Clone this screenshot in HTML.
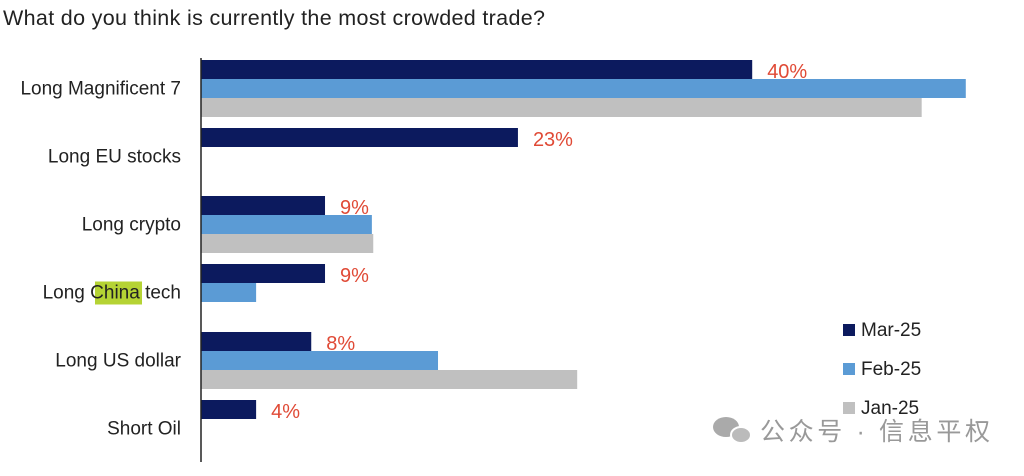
<!DOCTYPE html>
<html><head><meta charset="utf-8">
<style>
body{margin:0;background:#fff;width:1024px;height:471px;overflow:hidden;font-family:"Liberation Sans","Noto Sans CJK SC",sans-serif;}
</style></head>
<body>
<svg width="1024" height="471">
<text x="3" y="25" font-size="21.5" fill="#222" textLength="542">What do you think is currently the most crowded trade?</text>
<g id="bars"></g>
<line x1="201" y1="58" x2="201" y2="462" stroke="#222" stroke-width="1.5"/>
<g>
<rect x="843" y="324" width="12" height="12" fill="#0c1a5e"/>
<text x="861" y="336" font-size="19" fill="#222">Mar-25</text>
<rect x="843" y="363" width="12" height="12" fill="#5b9bd5"/>
<text x="861" y="375" font-size="19" fill="#222">Feb-25</text>
<rect x="843" y="402" width="12" height="12" fill="#c0c0c0"/>
<text x="861" y="414" font-size="19" fill="#222">Jan-25</text>
</g>
<g fill="#aaa">
<ellipse cx="726" cy="427" rx="13" ry="10"/>
<ellipse cx="741" cy="435" rx="10" ry="8" fill="#bbb" stroke="#fff" stroke-width="2"/>
</g>
<text x="760" y="440" font-size="25" fill="#999" textLength="230">公众号 · 信息平权</text>
</svg>
<script>
const categories=["Long Magnificent 7","Long EU stocks","Long crypto","Long China tech","Long US dollar","Short Oil"];
const mar=[40,23,9,9,8,4];
const feb=[55.5,0,12.4,4,17.2,0];
const jan=[52.3,0,12.5,0,27.3,0];
const marLabels=["40%","23%","9%","9%","8%","4%"];
const ns="http://www.w3.org/2000/svg";
const g=document.getElementById('bars');
const x0=201,pxPer=13.78,top0=60,groupStep=68,barH=19;
const xs=v=>x0+v*pxPer;
function mk(t,a){const e=document.createElementNS(ns,t);for(const k in a)e.setAttribute(k,a[k]);g.appendChild(e);return e;}
const series=[[mar,"#0c1a5e","mar"],[feb,"#5b9bd5","feb"],[jan,"#c0c0c0","jan"]];
categories.forEach((c,i)=>{
  const gy=top0+i*groupStep;
  series.forEach((s,j)=>{
    if(s[0][i]>0){
      const r=mk('rect',{x:x0,y:gy+j*barH,width:xs(s[0][i])-x0,height:barH,fill:s[1]});
      
      
    }
  });
  const lbl=mk('text',{x:xs(mar[i])+15,y:gy+18,'font-size':20,fill:'#e04a36'});
  lbl.textContent=marLabels[i];
  
  
  const cy=gy+barH*1.5+6;
  if(c==="Long China tech"){
    const hl=mk('rect',{x:95,y:cy-17,width:47,height:23,fill:'#b5d334'});
    
    
  }
  const t=mk('text',{x:181,y:cy,'font-size':19,fill:'#222','text-anchor':'end'});
  t.textContent=c;
  
  
});
</script>
</body></html>
